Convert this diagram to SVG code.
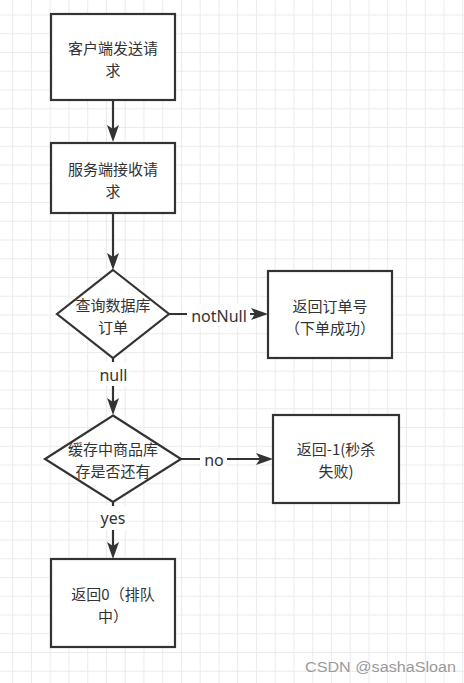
<svg xmlns="http://www.w3.org/2000/svg" width="464" height="683" viewBox="0 0 464 683">
<style>
.node{fill:#ffffff;stroke:#333333;stroke-width:2.2}
.cjk{font-family:"Noto Sans CJK SC","Noto Sans",sans-serif;font-size:15px;fill:#333333;text-anchor:middle}
.edge{stroke:#333333;stroke-width:2.2;fill:none}
.lbl{font-family:"Noto Sans","Liberation Sans",sans-serif;font-size:16px;fill:#333333;text-anchor:middle}
.lblbg{fill:#ffffff}
.wm{font-family:"Liberation Sans","Noto Sans",sans-serif;font-size:14px;fill:#9a9a9a}
</style>
<defs>
<pattern id="grid" width="18.75" height="18.75" patternUnits="userSpaceOnUse" x="12.2" y="14.5">
<path d="M0,0.5 H18.75 M0.5,0 V18.75" stroke="#ebebeb" stroke-width="1" fill="none"/>
</pattern>
<marker id="arr" viewBox="0 0 17 12" refX="4" refY="6" markerWidth="17" markerHeight="12" markerUnits="userSpaceOnUse" orient="auto">
<path d="M0,0 L17,6 L0,12 L4,6 Z" fill="#333333"/>
</marker>
</defs>
<rect x="0" y="0" width="464" height="683" fill="#ffffff"/>
<rect x="0" y="0" width="464" height="683" fill="url(#grid)"/>

<g id="connectors">
<line class="edge" x1="113" y1="100" x2="113" y2="129" marker-end="url(#arr)"/>
<line class="edge" x1="113" y1="213" x2="113" y2="257" marker-end="url(#arr)"/>
<line class="edge" x1="169" y1="314" x2="255" y2="314" marker-end="url(#arr)"/>
<line class="edge" x1="113" y1="358" x2="113" y2="402" marker-end="url(#arr)"/>
<line class="edge" x1="181" y1="459" x2="260" y2="459" marker-end="url(#arr)"/>
<line class="edge" x1="113" y1="502" x2="113" y2="546" marker-end="url(#arr)"/>
<rect class="lblbg" x="187" y="304" width="63" height="22"/>
<text class="lbl" x="219" y="322">notNull</text>
<rect class="lblbg" x="98" y="362" width="31" height="24"/>
<text class="lbl" x="113.5" y="381">null</text>
<rect class="lblbg" x="200" y="449" width="27" height="20"/>
<text class="lbl" x="214" y="465.5">no</text>
<rect class="lblbg" x="98" y="506" width="30" height="24"/>
<text class="lbl" x="113" y="524">yes</text>
</g>

<g id="client-send">
<rect class="node" x="51" y="14" width="124" height="86"/>
<text class="cjk" x="113" y="54">客户端发送请<tspan x="113" dy="22">求</tspan></text>
</g>

<g id="server-receive">
<rect class="node" x="51" y="143" width="124" height="70"/>
<text class="cjk" x="113" y="175">服务端接收请<tspan x="113" dy="22">求</tspan></text>
</g>

<g id="query-order">
<polygon class="node" points="113,270 169,314 113,358 57,314"/>
<text class="cjk" x="113" y="310.5">查询数据库<tspan x="113" dy="22">订单</tspan></text>
</g>

<g id="return-order">
<rect class="node" x="268" y="271" width="124" height="87"/>
<text class="cjk" x="330" y="311.5">返回订单号<tspan x="330" dy="22">（下单成功）</tspan></text>
</g>

<g id="check-stock">
<polygon class="node" points="113,415.5 181,459 113,502 45,459"/>
<text class="cjk" x="113" y="455">缓存中商品库<tspan x="113" dy="22">存是否还有</tspan></text>
</g>

<g id="return-fail">
<rect class="node" x="273" y="415" width="126" height="88"/>
<text class="cjk" x="336" y="455.3">返回-1(秒杀<tspan x="336" dy="22">失败)</tspan></text>
</g>

<g id="return-queue">
<rect class="node" x="51" y="559" width="124" height="88"/>
<text class="cjk" x="113" y="600">返回0（排队<tspan x="113" dy="22">中）</tspan></text>
</g>

<text class="wm" x="305" y="672" textLength="151" lengthAdjust="spacingAndGlyphs">CSDN @sashaSloan</text>
</svg>
